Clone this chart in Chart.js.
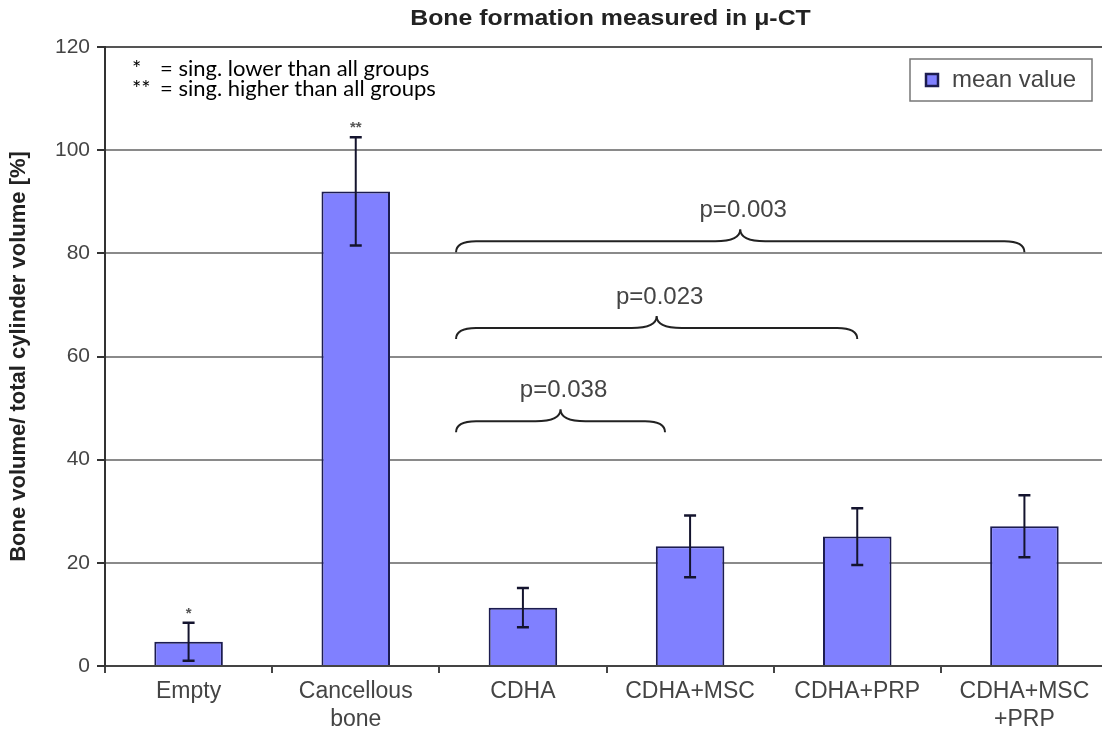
<!DOCTYPE html>
<html>
<head>
<meta charset="utf-8">
<title>Bone formation measured in μ-CT</title>
<script src="https://cdn.jsdelivr.net/npm/chart.js@4.4.1/dist/chart.umd.min.js"></script>
<style>
  html, body { margin: 0; padding: 0; background: #fff; overflow: hidden; }
</style>
</head>
<body>
<canvas id="myChart" width="1108" height="735"></canvas>
<script>
// values
const groups = ['Empty', ['Cancellous', 'bone'], 'CDHA', 'CDHA+MSC', 'CDHA+PRP', ['CDHA+MSC', '+PRP']];
const meanValue = [4.7, 92, 11.3, 23.2, 25.1, 27.1];
const sdValue = [3.7, 10.5, 3.8, 6.0, 5.5, 6.0];
const sigMarks = ['*', '**', '', '', '', ''];
const seriesName = 'mean value';

// p-value braces: start / end as category index, tip level in %
const pTexts = ['p=0.038', 'p=0.023', 'p=0.003'];
const pFrom = [1.6, 1.6, 1.6];
const pTo = [2.85, 4, 5];
const pLevel = [45.3, 63.4, 80.2];

const noteStars = ['*', '**'];
const noteTexts = ['= sing. lower than all groups', '= sing. higher than all groups'];

const chartTitle = 'Bone formation measured in μ-CT';
const yTitle = 'Bone volume/ total cylinder volume [%]';

const barColor = '#8080ff';
const barEdge = '#1c1c50';

// error bars, stars, braces, legend, notes and title
const extras = {
    id: 'extras',
    afterDatasetsDraw(chart) {
        const ctx = chart.ctx;
        const xs = chart.scales.x;
        const ys = chart.scales.y;
        const ca = chart.chartArea;
        ctx.save();

        // error bars
        ctx.strokeStyle = '#14142e';
        for (let i = 0; i < meanValue.length; i++) {
            const x = xs.getPixelForValue(i);
            const yTop = ys.getPixelForValue(meanValue[i] + sdValue[i]);
            const yBot = ys.getPixelForValue(Math.max(0, meanValue[i] - sdValue[i]));
            ctx.lineWidth = 2;
            ctx.beginPath();
            ctx.moveTo(x, yTop); ctx.lineTo(x, yBot);
            ctx.stroke();
            ctx.lineWidth = 2.5;
            ctx.beginPath();
            ctx.moveTo(x - 6, yTop); ctx.lineTo(x + 6, yTop);
            ctx.moveTo(x - 6, yBot); ctx.lineTo(x + 6, yBot);
            ctx.stroke();
            if (sigMarks[i]) {
                ctx.fillStyle = '#555';
                ctx.font = 'bold 15px "Liberation Sans"';
                ctx.textAlign = 'center';
                ctx.textBaseline = 'alphabetic';
                ctx.fillText(sigMarks[i], x, yTop - 5);
            }
        }

        // braces with p values
        ctx.strokeStyle = '#222';
        ctx.lineWidth = 2;
        for (let i = 0; i < pTexts.length; i++) {
            const x0 = xs.getPixelForValue(pFrom[i]);
            const x1 = xs.getPixelForValue(pTo[i]);
            const xm = (x0 + x1) / 2;
            const yT = ys.getPixelForValue(pLevel[i]);
            const yL = yT - 11;
            const yP = yL - 12;
            ctx.beginPath();
            ctx.moveTo(x0, yT);
            ctx.quadraticCurveTo(x0, yL, x0 + 20, yL);
            ctx.lineTo(xm - 25, yL);
            ctx.quadraticCurveTo(xm, yL, xm, yP);
            ctx.quadraticCurveTo(xm, yL, xm + 25, yL);
            ctx.lineTo(x1 - 20, yL);
            ctx.quadraticCurveTo(x1, yL, x1, yT);
            ctx.stroke();
            ctx.fillStyle = '#444';
            ctx.font = '24px "Liberation Sans"';
            ctx.textAlign = 'center';
            ctx.textBaseline = 'middle';
            ctx.fillText(pTexts[i], xm + 3, yP - 19);
        }

        // legend box
        const lx = ca.right - 198, ly = ca.top + 12;
        ctx.fillStyle = '#fff';
        ctx.fillRect(lx, ly, 182, 42);
        ctx.strokeStyle = '#777';
        ctx.lineWidth = 1.5;
        ctx.strokeRect(lx, ly, 182, 42);
        ctx.fillStyle = barColor;
        ctx.fillRect(lx + 16, ly + 15, 12, 12);
        ctx.strokeStyle = barEdge;
        ctx.lineWidth = 2.5;
        ctx.strokeRect(lx + 16, ly + 15, 12, 12);
        ctx.fillStyle = '#444';
        ctx.font = '24px "Liberation Sans"';
        ctx.textAlign = 'left';
        ctx.textBaseline = 'middle';
        ctx.fillText(seriesName, lx + 42, ly + 21);

        // significance notes
        ctx.fillStyle = '#000';
        ctx.font = '22px Lato';
        ctx.textBaseline = 'alphabetic';
        for (let i = 0; i < noteTexts.length; i++) {
            ctx.fillText(noteStars[i], ca.left + 27, ca.top + 29 + i * 20);
            ctx.fillText(noteTexts[i], ca.left + 55, ca.top + 29 + i * 20);
        }

        // title, a little wider than the plain font
        ctx.fillStyle = '#222';
        ctx.font = 'bold 22px "Liberation Sans"';
        ctx.textAlign = 'center';
        ctx.textBaseline = 'middle';
        ctx.translate((ca.left + ca.right) / 2 + 4, 19);
        ctx.scale(1.13, 1);
        ctx.fillText(chartTitle, 0, 0);

        ctx.restore();
    }
};

const data = {
    labels: groups,
    datasets: [{
        label: seriesName,
        data: meanValue,
        backgroundColor: barColor,
        borderColor: barEdge,
        borderWidth: 2,
        barPercentage: 0.41,
        categoryPercentage: 1
    }]
};

const config = {
    type: 'bar',
    data: data,
    options: {
        responsive: false,
        animation: false,
        devicePixelRatio: 1,
        layout: { padding: { top: 47, left: 0, right: 0, bottom: 0 } },
        plugins: {
            legend: { display: false },
            tooltip: { enabled: false },
            title: { display: false }
        },
        scales: {
            x: {
                afterFit(scale) { scale.height = 69; },
                grid: { offset: true, drawOnChartArea: false, tickLength: 7, color: '#444', lineWidth: 2 },
                border: { display: true, color: '#444', width: 2 },
                ticks: {
                    font: { family: '"Liberation Sans"', size: 23 },
                    color: '#444',
                    padding: 5,
                    maxRotation: 0,
                    autoSkip: false
                }
            },
            y: {
                min: 0,
                max: 120,
                afterFit(scale) { scale.width = 105; },
                ticks: {
                    stepSize: 20,
                    font: { family: '"Liberation Sans"', size: 21 },
                    color: '#444',
                    padding: 7
                },
                grid: {
                    color: c => c.tick.value === 0 ? 'rgba(0,0,0,0)' : (c.tick.value === 120 ? '#555' : '#8a8a8a'),
                    tickColor: '#333',
                    lineWidth: 2,
                    tickLength: 8
                },
                border: { display: true, color: '#333', width: 2 },
                title: {
                    display: true,
                    text: yTitle,
                    font: { family: '"Liberation Sans"', size: 22, weight: 'bold' },
                    color: '#222',
                    padding: { top: 6, bottom: 0 }
                }
            }
        }
    },
    plugins: [extras]
};

const mychart = new Chart(document.getElementById('myChart'), config);
</script>
</body>
</html>
